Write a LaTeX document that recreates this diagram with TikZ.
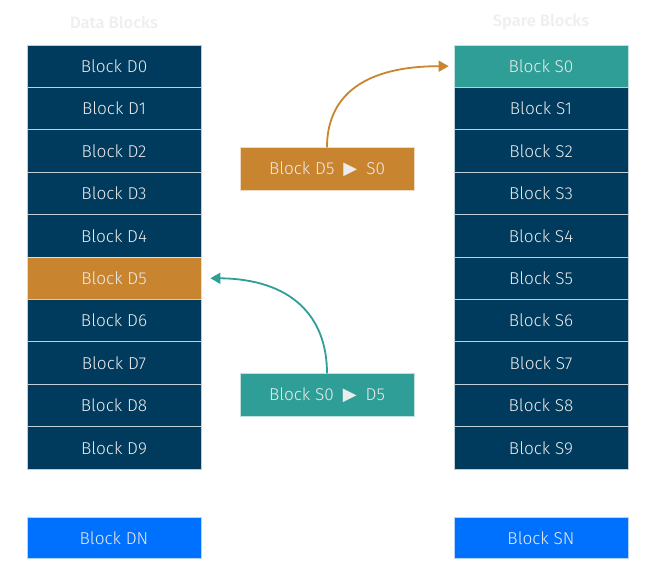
\documentclass[tikz,border=0pt]{standalone}
\usepackage{fontspec}
\setmainfont{Fira Sans}[UprightFont=* Light, BoldFont=* SemiBold]
\newfontfamily\symfont{DejaVu Sans}
\usetikzlibrary{arrows.meta}
\definecolor{navy}{HTML}{003A5D}
\definecolor{ochre}{HTML}{C8842E}
\definecolor{teal2}{HTML}{2E9E96}
\definecolor{brightblue}{HTML}{0070FF}
\definecolor{titlegrey}{HTML}{EFEFEF}
\definecolor{txt}{HTML}{ECECEC}
\newcommand{\tri}{\hspace{9pt}{\symfont\fontsize{18}{18}\selectfont ▶}\hspace{9pt}}
\tikzset{
  blk/.style={rectangle, minimum width=174pt, minimum height=42.4pt, inner sep=0pt,
    fill=navy, draw=white!75!navy, line width=0.8pt, text=txt, font=\fontsize{17.2}{18}\selectfont},
  hot/.style={blk, fill=ochre, draw=white!70!ochre},
  spare0/.style={blk, fill=teal2, draw=white!70!teal2},
  endblk/.style={blk, fill=brightblue, draw=white!70!brightblue, minimum height=41pt},
  title/.style={text=titlegrey, font=\bfseries\fontsize{16.5}{18}\selectfont},
  arr/.style={line width=1.8pt, -{Triangle[length=10pt,width=11pt]}}
}
\begin{document}
\begin{tikzpicture}[x=1pt,y=-1pt]
\useasboundingbox (0,0) rectangle (657,583);
\node[title] (tD) at (114,22) {Data Blocks};
\node[title] (tS) at (541,22) {Spare Blocks};
\foreach \i in {0,...,9}{
  \ifnum\i=5
    \node[hot] (d\i) at (114,{66.2+42.4*\i}) {Block D\i};
  \else
    \node[blk] (d\i) at (114,{66.2+42.4*\i}) {Block D\i};
  \fi
  \ifnum\i=0
    \node[spare0] (s\i) at (541,{66.2+42.4*\i}) {Block S\i};
  \else
    \node[blk] (s\i) at (541,{66.2+42.4*\i}) {Block S\i};
  \fi
}
\node[endblk] (dn) at (114,538) {Block DN};
\node[endblk] (sn) at (541,538) {Block SN};
\node[hot] (m1) at (327,169) {Block D5\tri S0};
\node[spare0] (m2) at (327,395) {Block S0\tri D5};
\draw[arr, ochre] (m1.north) .. controls (327,95) and (365,66.2) .. ([xshift=-5pt]s0.west);
\draw[arr, teal2] (m2.north) .. controls (327,315) and (290,279) .. ([xshift=9pt]d5.east);
\end{tikzpicture}
\end{document}
